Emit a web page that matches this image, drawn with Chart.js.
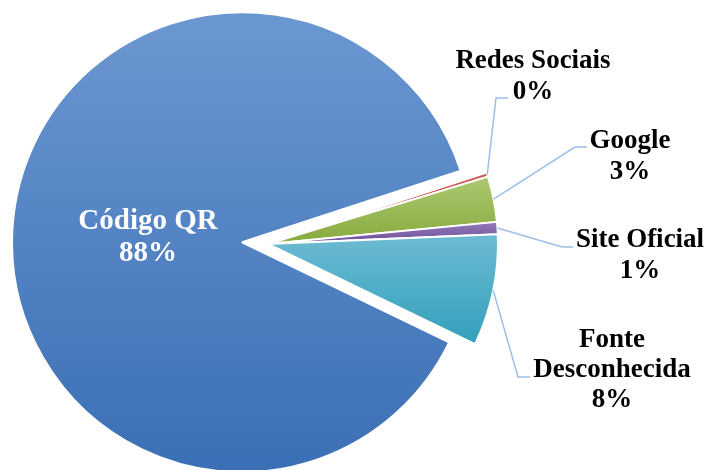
<!DOCTYPE html>
<html>
<head>
<meta charset="utf-8">
<script src="https://cdn.jsdelivr.net/npm/chart.js@4.4.1/dist/chart.umd.min.js"></script>
<style>
  html, body { margin: 0; padding: 0; background: #fff; }
  #wrap { width: 706px; height: 470px; }
</style>
</head>
<body>
<div id="wrap"><canvas id="pie-chart"></canvas></div>
<script>
const labels = ['Código QR', 'Redes Sociais', 'Google', 'Site Oficial', 'Fonte Desconhecida'];
const shares = [87.8, 0.3, 3.2, 0.85, 7.85];

// light (top) and dark (bottom) end of each slice's gradient
const colorsTop = ['#6b97d1', '#d0605c', '#abc972', '#9379b6', '#6dbbd2'];
const colorsBottom = ['#3b6fb5', '#b8433f', '#88aa3d', '#6e509b', '#32a0bc'];

// label text anchor (centre x, first baseline) and leader line elbows
const labelLayout = [
    {x: 148, y: 229, size: 29, lh: 32, wrap: false, color: '#fff', lead: null},
    {x: 533, y: 68, size: 27, lh: 31, wrap: false, color: '#000', lead: [[496, 98], [508, 98]]},
    {x: 630, y: 148, size: 27, lh: 31, wrap: false, color: '#000', lead: [[575, 147], [587, 147]]},
    {x: 640, y: 247, size: 27, lh: 31, wrap: false, color: '#000', lead: [[562, 247], [573, 247]]},
    {x: 612, y: 347, size: 27, lh: 30, wrap: true, color: '#000', lead: [[518, 377], [530, 377]]}
];

const explode = 26;      // the big slice is pulled out to the left

function yExtent(arc) {
    const r = arc.outerRadius;
    const s = arc.startAngle, e = arc.endAngle;
    let top = Math.min(arc.y, arc.y + r * Math.sin(s), arc.y + r * Math.sin(e));
    let bottom = Math.max(arc.y, arc.y + r * Math.sin(s), arc.y + r * Math.sin(e));
    const covers = (a) => {
        let t = a;
        while (t < s) t += Math.PI * 2;
        return t <= e;
    };
    if (covers(-Math.PI / 2)) top = arc.y - r;
    if (covers(Math.PI / 2)) bottom = arc.y + r;
    return [top, bottom];
}

const pieTweaks = {
    id: 'pieTweaks',
    afterDatasetUpdate(chart) {
        const arc = chart.getDatasetMeta(0).data[0];
        const mid = (arc.startAngle + arc.endAngle) / 2;
        arc.x += Math.cos(mid) * explode;
        arc.y += Math.sin(mid) * explode;
    },
    beforeDatasetsDraw(chart) {
        const ctx = chart.ctx;
        chart.getDatasetMeta(0).data.forEach((arc, i) => {
            const [top, bottom] = yExtent(arc);
            const g = ctx.createLinearGradient(0, top, 0, bottom);
            g.addColorStop(0, colorsTop[i]);
            g.addColorStop(1, colorsBottom[i]);
            arc.options.backgroundColor = g;
        });
    },
    afterDatasetsDraw(chart) {
        const ctx = chart.ctx;
        ctx.save();
        chart.getDatasetMeta(0).data.forEach((arc, i) => {
            const lay = labelLayout[i];
            if (lay.lead) {
                const mid = (arc.startAngle + arc.endAngle) / 2;
                ctx.beginPath();
                ctx.moveTo(arc.x + Math.cos(mid) * arc.outerRadius, arc.y + Math.sin(mid) * arc.outerRadius);
                lay.lead.forEach(p => ctx.lineTo(p[0], p[1]));
                ctx.strokeStyle = '#9dbfe8';
                ctx.lineWidth = 1.5;
                ctx.stroke();
            }
            const lines = lay.wrap ? labels[i].split(' ') : [labels[i]];
            lines.push(Math.round(shares[i]) + '%');
            ctx.font = 'bold ' + lay.size + 'px "Liberation Serif", "Times New Roman", serif';
            ctx.fillStyle = lay.color;
            ctx.textAlign = 'center';
            ctx.textBaseline = 'alphabetic';
            lines.forEach((t, k) => ctx.fillText(t, lay.x, lay.y + k * lay.lh));
        });
        ctx.restore();
    }
};

new Chart(document.getElementById('pie-chart'), {
    type: 'pie',
    data: {
        labels: labels,
        datasets: [{
            data: shares,
            backgroundColor: (c) => colorsBottom[c.dataIndex],
            borderColor: '#ffffff',
            borderWidth: 2,
            clip: false
        }]
    },
    options: {
        responsive: true,
        maintainAspectRatio: false,
        animation: false,
        rotation: 115.8,
        radius: 230,
        layout: {
            padding: {left: 0, right: 170, top: 18, bottom: 0}
        },
        plugins: {
            legend: {display: false},
            tooltip: {enabled: false}
        }
    },
    plugins: [pieTweaks]
});
</script>
</body>
</html>
